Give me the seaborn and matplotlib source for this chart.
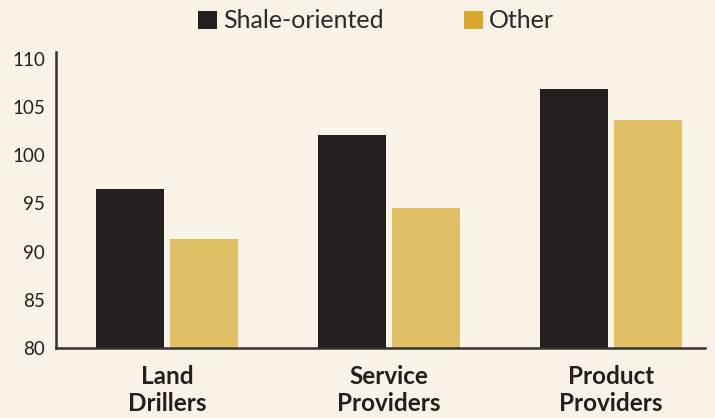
import matplotlib
matplotlib.use("Agg")
import matplotlib.pyplot as plt
from matplotlib.patches import Patch
import seaborn as sns
import pandas as pd

categories = ["Land\nDrillers", "Service\nProviders", "Product\nProviders"]
series_names = ["Shale-oriented", "Other"]
shale_values = [96.5, 102.1, 106.9]
other_values = [91.3, 94.5, 103.6]
y_ticks = [80, 85, 90, 95, 100, 105, 110]

bg = "#F8F2E7"
ink = "#231F20"
bar_gold = "#E0BF65"
legend_gold = "#DAA82B"

df = pd.DataFrame({
    "category": categories * 2,
    "series": [series_names[0]] * 3 + [series_names[1]] * 3,
    "value": shale_values + other_values,
})

sns.set_theme(style="white")
plt.rcParams["font.family"] = ["Lato", "DejaVu Sans"]

fig = plt.figure(figsize=(7.15, 4.18), dpi=100, facecolor=bg)
ax = fig.add_axes([56 / 715, 1 - 348 / 418, (705 - 56) / 715, (348 - 52) / 418])
ax.set_facecolor(bg)

sns.barplot(data=df, x="category", y="value", hue="series",
            palette=[ink, bar_gold], width=0.667, gap=0.08,
            saturation=1, legend=False, ax=ax, edgecolor="none")

ax.set_ylim(80, 110.7)
ax.set_xlim(-0.5, 2.4234)
ax.set_yticks(y_ticks)
ax.set_yticklabels([str(t) for t in y_ticks], fontsize=13.5, color=ink)
ax.tick_params(axis="y", length=0, pad=8)

ax.set_xticks(range(len(categories)))
ax.set_xticklabels(categories, fontsize=17.5, fontweight="bold", color=ink,
                   linespacing=1.22)
ax.tick_params(axis="x", which="major", length=0, pad=12)
ax.set_xticks([-0.5, 0.5, 1.5, 2.4234], minor=True)
ax.tick_params(axis="x", which="minor", length=5, width=1.8, color="#333333",
               direction="out")

for side in ["top", "right"]:
    ax.spines[side].set_visible(False)
for side in ["left", "bottom"]:
    ax.spines[side].set_color("#333333")
    ax.spines[side].set_linewidth(1.8)

ax.set_xlabel("")
ax.set_ylabel("")
ax.grid(False)

handles = [Patch(facecolor=ink, edgecolor="none"),
           Patch(facecolor=legend_gold, edgecolor="none")]
fig.legend(handles, series_names, loc="center", bbox_to_anchor=(376 / 715, 1 - 21 / 418),
           ncol=2, frameon=False, fontsize=18, handlelength=0.75, handleheight=0.75,
           handletextpad=0.25, columnspacing=3.2, labelcolor="#2a2a2a")

fig.savefig("out.png", dpi=100, facecolor=bg)
